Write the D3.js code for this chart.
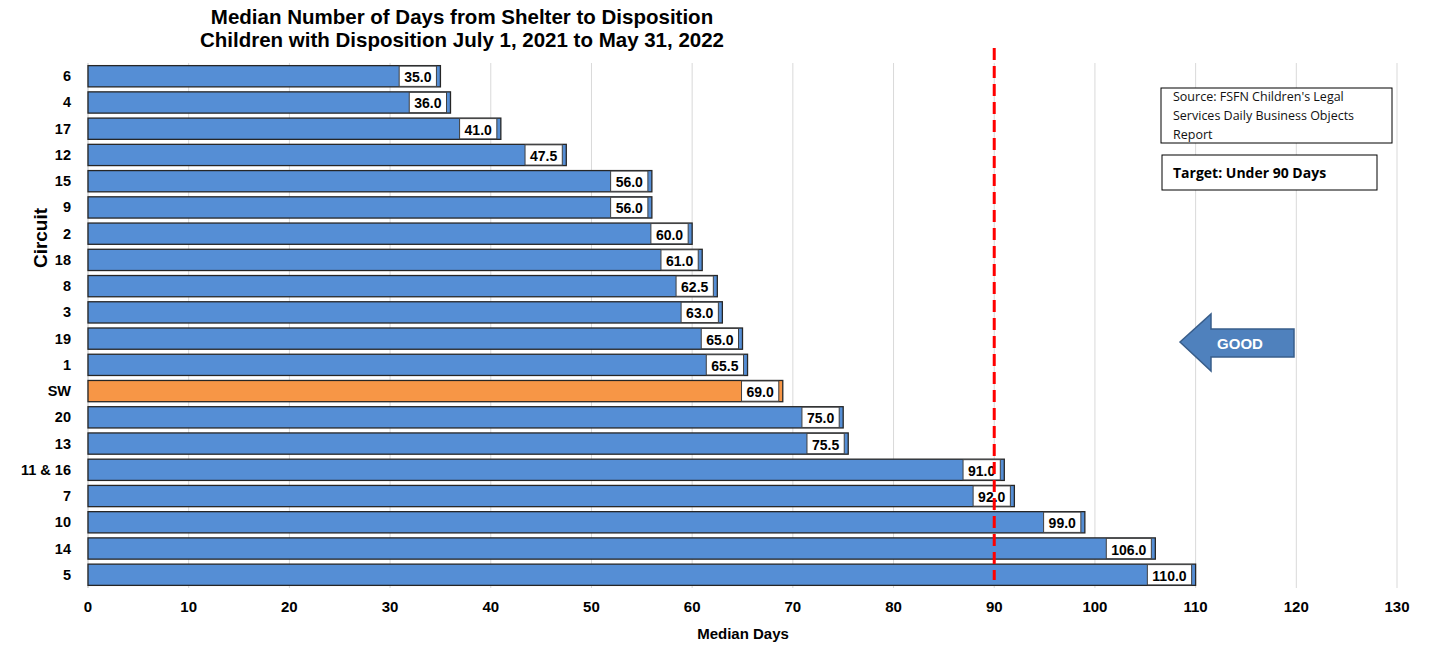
<!DOCTYPE html>
<html><head><meta charset="utf-8">
<script src="https://cdn.jsdelivr.net/npm/d3@7"></script>
<style>body{margin:0;background:#fff}svg{display:block}</style>
</head><body>
<svg id="c" width="1429" height="646"></svg>
<script>
const circuits = ["6","4","17","12","15","9","2","18","8","3","19","1","SW","20","13","11 & 16","7","10","14","5"];
const medianDays = [35,36,41,47.5,56,56,60,61,62.5,63,65,65.5,69,75,75.5,91,92,99,106,110];
const xTicks = [0,10,20,30,40,50,60,70,80,90,100,110,120,130];
const target = 90;
const highlight = "SW";
const titleLines = ["Median Number of Days from Shelter to Disposition","Children with Disposition July 1, 2021 to May 31, 2022"];
const sourceLines = ["Source: FSFN Children's Legal","Services Daily Business Objects","Report"];

const svg = d3.select("#c");
const m = {left:88, right:1397, top:63, bottom:588};
const x = d3.scaleLinear().domain([0,130]).range([m.left, m.right]);
const y = d3.scaleBand().domain(circuits).range([m.top, m.bottom]).paddingInner(0.19).paddingOuter(0.1);
const bold = "Liberation Sans, Arial, sans-serif";

// gridlines
svg.append("g").selectAll("line").data(xTicks.slice(1)).join("line")
  .attr("x1", d=>x(d)).attr("x2", d=>x(d)).attr("y1", m.top).attr("y2", m.bottom)
  .attr("stroke", "#d9d9d9").attr("stroke-width", 1);
svg.append("line").attr("x1", x(0)).attr("x2", x(0)).attr("y1", m.top).attr("y2", m.bottom)
  .attr("stroke", "#bfbfbf");

// bars
const data = circuits.map((c,i)=>({c, v:medianDays[i]}));
svg.append("g").selectAll("rect").data(data).join("rect")
  .attr("x", x(0)).attr("y", d=>y(d.c)).attr("width", d=>x(d.v)-x(0)).attr("height", y.bandwidth())
  .attr("fill", d=>d.c===highlight ? "#F79646" : "#558ED5")
  .attr("stroke", "#262626").attr("stroke-width", 1.3);

// labels
const lg = svg.append("g").selectAll("g").data(data).join("g");
lg.each(function(d){
  const g = d3.select(this);
  const t = g.append("text").text(d.v.toFixed(1))
    .attr("font-family", bold).attr("font-weight", "bold").attr("font-size", 14)
    .attr("text-anchor", "end").attr("dominant-baseline", "central")
    .attr("x", x(d.v) - 9).attr("y", y(d.c) + y.bandwidth()/2 + 1).attr("fill", "#000");
  const w = t.node().getComputedTextLength();
  g.insert("rect", "text").attr("x", x(d.v) - 14 - w).attr("y", y(d.c) + 0.5)
    .attr("width", w + 10).attr("height", y.bandwidth() - 1)
    .attr("fill", "#fff").attr("stroke", "#404040").attr("stroke-width", 1);
});

// target line
svg.append("line").attr("x1", x(target)).attr("x2", x(target)).attr("y1", 48).attr("y2", 580)
  .attr("stroke", "#ff0000").attr("stroke-width", 3).attr("stroke-dasharray", "12,6");

// axes labels
svg.append("g").selectAll("text").data(xTicks).join("text")
  .attr("x", d=>x(d)).attr("y", 612).text(d=>d)
  .attr("text-anchor", "middle").attr("font-family", bold).attr("font-weight", "bold").attr("font-size", 15);
svg.append("g").selectAll("text").data(circuits).join("text")
  .attr("x", 71).attr("y", d=>y(d)+y.bandwidth()/2).attr("dominant-baseline", "central").text(d=>d)
  .attr("text-anchor", "end").attr("font-family", bold).attr("font-weight", "bold").attr("font-size", 14.5);
svg.append("text").attr("transform", "translate(47,238) rotate(-90)").text("Circuit")
  .attr("text-anchor", "middle").attr("font-family", bold).attr("font-weight", "bold").attr("font-size", 19);
svg.append("text").attr("x", 743).attr("y", 639).text("Median Days")
  .attr("text-anchor", "middle").attr("font-family", bold).attr("font-weight", "bold").attr("font-size", 15);

// title
svg.append("g").selectAll("text").data(titleLines).join("text")
  .attr("x", 462).attr("y", (d,i)=>24 + i*23).text(d=>d)
  .attr("text-anchor", "middle").attr("font-family", "Liberation Sans Narrow, Arial Narrow, Liberation Sans, sans-serif")
  .attr("font-weight", "bold").attr("font-size", 20.5);

// source box
svg.append("rect").attr("x", 1161).attr("y", 88).attr("width", 231).attr("height", 55)
  .attr("fill", "#fff").attr("stroke", "#000").attr("stroke-width", 1);
svg.append("g").selectAll("text").data(sourceLines).join("text")
  .attr("x", 1173).attr("y", (d,i)=>101 + i*19).text(d=>d)
  .attr("font-family", "Open Sans, sans-serif").attr("font-size", 12.5).attr("fill", "#111");
svg.append("rect").attr("x", 1162).attr("y", 155).attr("width", 215).attr("height", 35)
  .attr("fill", "#fff").attr("stroke", "#000").attr("stroke-width", 1);
svg.append("text").attr("x", 1173).attr("y", 178).text("Target: Under 90 Days")
  .attr("font-family", "Open Sans, sans-serif").attr("font-weight", "bold").attr("font-size", 14);

// GOOD arrow
const ap = [[1180,342],[1211,314],[1211,329],[1294,329],[1294,357],[1211,357],[1211,371]];
svg.append("path").attr("d", d3.line()(ap) + "Z")
  .attr("fill", "#4F81BD").attr("stroke", "#385D8A").attr("stroke-width", 1.5);
svg.append("text").attr("x", 1240).attr("y", 343).text("GOOD").attr("dominant-baseline", "central")
  .attr("text-anchor", "middle").attr("font-family", bold).attr("font-weight", "bold").attr("font-size", 15).attr("fill", "#fff");
</script>
</body></html>
